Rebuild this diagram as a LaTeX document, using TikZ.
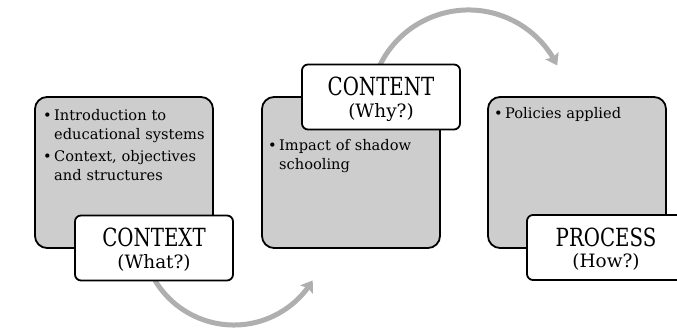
\documentclass[tikz,border=0pt]{standalone}
\usepackage{fontspec}
\setmainfont{DejaVu Serif}
\newfontfamily\ttlfont[FakeStretch=0.79]{DejaVu Serif}
\usetikzlibrary{arrows.meta,bending}
\definecolor{boxgray}{RGB}{205,205,205}
\definecolor{arcgray}{RGB}{175,175,175}
\newcommand\bitem[1]{\noindent\hangindent=11pt\hangafter=1\makebox[11pt][l]{\textbullet}#1\par}
\begin{document}
\begin{tikzpicture}[x=1pt,y=1pt,
 graybox/.style={draw=black, line width=1.8pt, fill=boxgray, rounded corners=12pt, minimum width=178pt, minimum height=151pt, inner sep=0pt},
 labelbox/.style={draw=black, line width=1.8pt, fill=white, rounded corners=6pt, minimum width=158pt, minimum height=65pt, inner sep=0pt},
 bodytext/.style={anchor=north west, inner sep=0pt, text width=170pt, align=left, font=\fontsize{14.6}{19.5}\selectfont},
 titletext/.style={anchor=base, inner sep=0pt, font=\ttlfont\fontsize{25}{30}\selectfont},
 subtext/.style={anchor=base, inner sep=0pt, font=\fontsize{18.4}{22}\selectfont},
 arcarrow/.style={draw=arcgray, line width=5pt, -{Stealth[length=11pt,width=15pt,inset=2pt]}}
]
\useasboundingbox (0,0) rectangle (677,328);
\clip (0,0) rectangle (677,328);
% arcs
\coordinate (s1) at (155,47.6);
\coordinate (s2) at (379.8,262.6);
\draw[arcarrow] (s1) arc[start angle=211, end angle=329, radius=92];
\draw[arcarrow] (s2) arc[start angle=154, end angle=26, radius=98.7];
% gray boxes
\node[graybox] (ga) at (124,155.5) {};
\node[graybox] (gb) at (351,155.5) {};
\node[graybox] (gc) at (577,155.5) {};
% body texts
\node[bodytext] (ta) at (43,219) {\bitem{Introduction to\newline educational systems}\vspace{2pt}\bitem{Context, objectives\newline and structures}};
\node[bodytext] (tb) at (268,189) {\bitem{Impact of shadow\newline schooling}};
\node[bodytext] (tc) at (494,221) {\bitem{Policies applied}};
% label boxes
\node[labelbox] (la) at (154,80) {};
\node[labelbox] (lb) at (381,231) {};
\node[labelbox] (lc) at (606,80.5) {};
\node[titletext] (la1) at ([yshift=1pt]la.center) {CONTEXT};
\node[subtext] (la2) at ([yshift=-20.5pt]la.center) {(What?)};
\node[titletext] (lb1) at ([yshift=1pt]lb.center) {CONTENT};
\node[subtext] (lb2) at ([yshift=-20.5pt]lb.center) {(Why?)};
\node[titletext] (lc1) at ([yshift=1pt]lc.center) {PROCESS};
\node[subtext] (lc2) at ([yshift=-20.5pt]lc.center) {(How?)};
\end{tikzpicture}
\end{document}
